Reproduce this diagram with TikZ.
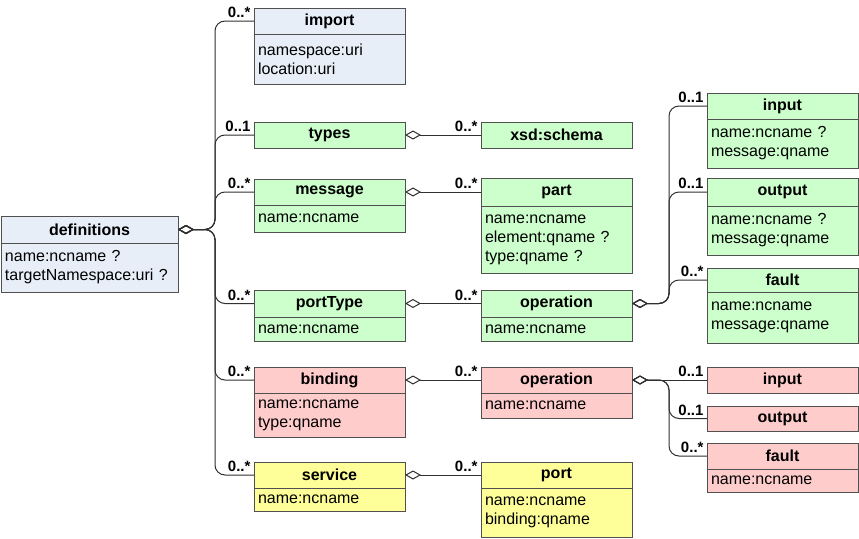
\documentclass[tikz,border=0pt]{standalone}
\usepackage{fontspec}
\setmainfont{Liberation Sans}
\usetikzlibrary{arrows.meta}

\definecolor{defblue}{HTML}{E8EEF8}
\definecolor{absgreen}{HTML}{CCFFCC}
\definecolor{bindpink}{HTML}{FFCCCC}
\definecolor{svcyellow}{HTML}{FFFF99}
\definecolor{edgegray}{HTML}{505050}
\definecolor{linegray}{HTML}{303030}

\newcommand{\boxfont}{\fontsize{16}{19}\selectfont}
\tikzstyle{classhead} = [rectangle, draw = edgegray, line width = 1pt, outer sep = 0pt, anchor = north west, font = \boxfont\bfseries]
\tikzstyle{classattr} = [rectangle, draw = edgegray, line width = 1pt, outer sep = 0pt, anchor = north west, inner xsep = 4pt, inner ysep = 2pt, align = left, font = \boxfont]
\tikzstyle{link} = [draw = linegray, line width = 1pt, rounded corners = 10pt]
\tikzstyle{aggr} = [{Diamond[open, length = 16pt, width = 9pt]}-]
\tikzstyle{mult} = [anchor = south east, inner xsep = 3pt, inner ysep = 2.5pt, font = \fontsize{15}{16}\selectfont\bfseries]

% name, left, top, header bottom, bottom, width, title, attributes, fill
\newcommand{\wsdlclass}[9]{%
  \pgfmathsetmacro{\headh}{#4 - #3}
  \pgfmathsetmacro{\attrh}{#5 - #4}
  \pgfmathsetmacro{\attrw}{#6 - 8}
  \node[classhead, fill = #9, minimum width = #6pt, minimum height = \headh pt] (#1) at (#2, #3) {#7};
  \node[classattr, fill = #9, minimum width = #6pt, text width = \attrw pt, minimum height = \attrh pt] (#1-attr) at (#2, #4) {#8};
}
% name, left, top, bottom, title, fill
\newcommand{\wsdlhead}[6]{%
  \pgfmathsetmacro{\headh}{#4 - #3}
  \node[classhead, fill = #6, minimum width = 151pt, minimum height = \headh pt] (#1) at (#2, #3) {#5};
}

\begin{document}
\begin{tikzpicture}[x = 1pt, y = -1pt]
  \useasboundingbox (0, 0) rectangle (859, 538);
  \wsdlclass{defs}{1}{216}{243}{292}{177}{definitions}{name:ncname ?\\targetNamespace:uri ?}{defblue}
  % second column
  \wsdlclass{import}{254}{8}{34}{84}{151}{import}{namespace:uri\\location:uri}{defblue}
  \wsdlhead{types}{254}{122}{148}{types}{absgreen}
  \wsdlclass{message}{254}{179}{205}{232}{151}{message}{name:ncname}{absgreen}
  \wsdlclass{porttype}{254}{290}{317}{341}{151}{portType}{name:ncname}{absgreen}
  \wsdlclass{binding}{254}{367}{393}{437}{151}{binding}{name:ncname\\type:qname}{bindpink}
  \wsdlclass{service}{254}{462}{488}{511}{151}{service}{name:ncname}{svcyellow}
  % third column
  \wsdlhead{schema}{481}{122}{148}{xsd:schema}{absgreen}
  \wsdlclass{part}{481}{178}{206}{273}{151}{part}{name:ncname\\element:qname ?\\type:qname ?}{absgreen}
  \wsdlclass{opg}{481}{290}{317}{341}{151}{operation}{name:ncname}{absgreen}
  \wsdlclass{opp}{481}{367}{393}{418}{151}{operation}{name:ncname}{bindpink}
  \wsdlclass{port}{481}{462}{488}{537}{151}{port}{name:ncname\\binding:qname}{svcyellow}
  % last column
  \wsdlclass{inputg}{707}{93}{119}{168}{151}{input}{name:ncname ?\\message:qname}{absgreen}
  \wsdlclass{outputg}{707}{178}{206}{255}{151}{output}{name:ncname ?\\message:qname}{absgreen}
  \wsdlclass{faultg}{707}{268}{292}{343}{151}{fault}{name:ncname\\message:qname}{absgreen}
  \wsdlhead{inputp}{707}{367}{393}{input}{bindpink}
  \wsdlhead{outputp}{707}{406}{431}{output}{bindpink}
  \wsdlclass{faultp}{707}{443}{469}{492}{151}{fault}{name:ncname}{bindpink}

  % connectors
  \coordinate (deftrunk) at (215, 0);
  \coordinate (optrunk) at (669, 0);
  \foreach \c/\m in {import/0..*, types/0..1, message/0..*, porttype/0..*, binding/0..*, service/0..*} {
    \draw[link, aggr] (defs.east) -- (defs.east -| deftrunk) |- (\c.west) node[mult] (\c-mult) {\m};
  }
  \foreach \a/\b in {types/schema, message/part, porttype/opg, binding/opp, service/port} {
    \draw[link, aggr] (\a.east) -- (\b.west) node[mult] (\b-mult) {0..*};
  }
  \foreach \c/\m in {inputg/0..1, outputg/0..1, faultg/0..*} {
    \draw[link, aggr] (opg.east) -- (opg.east -| optrunk) |- (\c.west) node[mult] (\c-mult) {\m};
  }
  \draw[link, aggr] (opp.east) -- (inputp.west) node[mult] (inputp-mult) {0..1};
  \foreach \c/\m in {outputp/0..1, faultp/0..*} {
    \draw[link, aggr] (opp.east) -- (opp.east -| optrunk) |- (\c.west) node[mult] (\c-mult) {\m};
  }
\end{tikzpicture}
\end{document}
